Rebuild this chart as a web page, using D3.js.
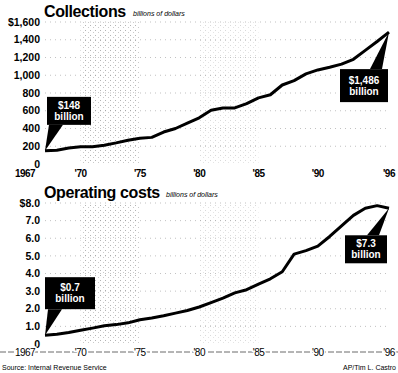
<!DOCTYPE html>
<html>
<head>
<meta charset="utf-8">
<script src="https://cdn.jsdelivr.net/npm/d3@7"></script>
<style>
  body { margin: 0; background: #fff; }
  svg { display: block; font-family: "Liberation Sans", Arial, sans-serif; }
</style>
</head>
<body>
<svg id="chart" width="398" height="373"></svg>
<script>
// data
const years = d3.range(1967, 1997);
const collections = [148, 155, 180, 195, 195, 212, 238, 268, 290, 300,
  360, 400, 460, 520, 605, 630, 632, 680, 745, 780,
  890, 940, 1015, 1060, 1090, 1125, 1180, 1280, 1380, 1486];
const opCosts = [0.5, 0.55, 0.65, 0.78, 0.9, 1.03, 1.1, 1.2, 1.38, 1.48,
  1.6, 1.75, 1.9, 2.1, 2.35, 2.6, 2.9, 3.08, 3.4, 3.7,
  4.1, 5.1, 5.3, 5.55, 6.1, 6.7, 7.3, 7.7, 7.85, 7.7];
const collTicks = [0, 200, 400, 600, 800, 1000, 1200, 1400, 1600];
const costTicks = [0, 1, 2, 3, 4, 5, 6, 7, 8];
const yearTicks = [1967, 1970, 1975, 1980, 1985, 1990, 1996];
const yearLabels = ["1967", "'70", "'75", "'80", "'85", "'90", "'96"];
const bands = [[1970, 1975, 0.4], [1980, 1985, 0.2]];

const svg = d3.select("#chart");

const x = d3.scaleLinear().domain([1967, 1996]).range([45, 389]);
const yTop = d3.scaleLinear().domain([0, 1600]).range([164, 22]);
const yBot = d3.scaleLinear().domain([0, 8]).range([344, 203]);

// stipple pattern for the shaded bands
const defs = svg.append("defs");
const pat = defs.append("pattern")
  .attr("id", "dots")
  .attr("width", 5).attr("height", 5)
  .attr("patternUnits", "userSpaceOnUse");
pat.append("rect").attr("x", 0).attr("y", 0).attr("width", 1).attr("height", 1).attr("fill", "#444");
pat.append("rect").attr("x", 3).attr("y", 2).attr("width", 1).attr("height", 1).attr("fill", "#777");

function panel(y, ticks, values, fmt, title, titleW) {
  const g = svg.append("g");

  g.selectAll("rect.band")
    .data(bands)
    .enter().append("rect")
    .attr("class", "band")
    .attr("x", d => x(d[0]))
    .attr("width", d => x(d[1]) - x(d[0]))
    .attr("y", y(ticks[ticks.length - 1]))
    .attr("height", y(0) - y(ticks[ticks.length - 1]))
    .attr("fill", "url(#dots)")
    .attr("opacity", d => d[2]);

  // faint dotted gridlines
  g.selectAll("line.grid")
    .data(ticks.slice(1))
    .enter().append("line")
    .attr("x1", x(1967)).attr("x2", x(1996))
    .attr("y1", d => y(d)).attr("y2", d => y(d))
    .attr("stroke", "#999")
    .attr("stroke-width", 0.6)
    .attr("stroke-dasharray", "1,4");

  g.selectAll("text.ytick")
    .data(ticks)
    .enter().append("text")
    .attr("x", 40)
    .attr("y", d => y(d))
    .attr("dy", "0.35em")
    .attr("text-anchor", "end")
    .attr("font-size", 10.5)
    .attr("font-weight", "bold")
    .text(fmt);

  const line = d3.line()
    .x((d, i) => x(years[i]))
    .y(d => y(d));

  g.append("path")
    .datum(values)
    .attr("d", line)
    .attr("fill", "none")
    .attr("stroke", "#000")
    .attr("stroke-width", 3)
    .attr("stroke-linejoin", "round");

  g.append("text")
    .attr("x", 44)
    .attr("y", y(ticks[ticks.length - 1]) - 5)
    .attr("font-size", 16)
    .attr("font-weight", "bold")
    .attr("letter-spacing", -0.4)
    .text(title);

  g.append("text")
    .attr("x", 44 + titleW)
    .attr("y", y(ticks[ticks.length - 1]) - 6)
    .attr("font-size", 7)
    .attr("font-style", "italic")
    .text("billions of dollars");

  return g;
}

function callout(g, tip, box, pointer, lines) {
  g.append("polygon")
    .attr("points", [[box[0] + pointer[0], pointer[2] ? box[1] : box[1] + box[3]],
                     [box[0] + pointer[1], pointer[2] ? box[1] : box[1] + box[3]],
                     tip].map(p => p.join(",")).join(" "))
    .attr("fill", "#000");
  g.append("rect")
    .attr("x", box[0]).attr("y", box[1])
    .attr("width", box[2]).attr("height", box[3])
    .attr("fill", "#000");
  g.selectAll(null)
    .data(lines)
    .enter().append("text")
    .attr("x", box[0] + box[2] / 2)
    .attr("y", (d, i) => box[1] + box[3] / 2 + (i - 0.5) * 11)
    .attr("dy", "0.35em")
    .attr("text-anchor", "middle")
    .attr("fill", "#fff")
    .attr("font-size", 10)
    .attr("font-weight", "bold")
    .text(d => d);
}

// top panel
const topPanel = panel(yTop, collTicks, collections,
  d => d === 1600 ? "$1,600" : d3.format(",")(d), "Collections", 89);

topPanel.selectAll("text.xtick")
  .data(yearTicks)
  .enter().append("text")
  .attr("x", (d, i) => x(d) + (i === 0 ? -20 : 0))
  .attr("y", yTop(0) + 13)
  .attr("text-anchor", "middle")
  .attr("font-size", 10)
  .attr("font-weight", "bold")
  .attr("letter-spacing", -0.5)
  .text((d, i) => yearLabels[i]);

{
  const t0 = [x(1967), yTop(collections[0])];
  callout(topPanel, t0, [t0[0] + 2, t0[1] - 54, 44, 28], [2, 16, false], ["$148", "billion"]);
  const t1 = [x(1996), yTop(collections[collections.length - 1])];
  callout(topPanel, t1, [t1[0] - 49, t1[1] + 37, 48, 33], [30, 42, true], ["$1,486", "billion"]);
}

// bottom panel
const botPanel = panel(yBot, costTicks, opCosts,
  d => d === 0 ? "0" : (d === 8 ? "$8.0" : d3.format(".1f")(d)), "Operating costs", 122);

const axisY = yBot(0) + 8;
botPanel.append("line")
  .attr("x1", 0).attr("x2", 398)
  .attr("y1", axisY).attr("y2", axisY)
  .attr("stroke", "#444")
  .attr("stroke-width", 0.8)
  .attr("stroke-dasharray", "6,2");

botPanel.selectAll("text.xtick")
  .data(yearTicks)
  .enter().append("text")
  .attr("x", (d, i) => x(d) + (i === 0 ? -20 : 0))
  .attr("y", axisY)
  .attr("dy", "0.35em")
  .attr("text-anchor", "middle")
  .attr("font-size", 10)
  .attr("letter-spacing", -0.5)
  .attr("stroke", "#fff")
  .attr("stroke-width", 3)
  .attr("paint-order", "stroke")
  .text((d, i) => yearLabels[i]);

{
  const t0 = [x(1967), yBot(opCosts[0])];
  callout(botPanel, t0, [t0[0], t0[1] - 58, 50, 32], [3, 17, false], ["$0.7", "billion"]);
  const t1 = [x(1996), yBot(opCosts[opCosts.length - 1])];
  callout(botPanel, t1, [t1[0] - 44, t1[1] + 27, 42, 28], [22, 34, true], ["$7.3", "billion"]);
}

svg.append("text")
  .attr("x", 2).attr("y", 370)
  .attr("font-size", 7)
  .text("Source: Internal Revenue Service");

svg.append("text")
  .attr("x", 396).attr("y", 370)
  .attr("text-anchor", "end")
  .attr("font-size", 7)
  .text("AP/Tim L. Castro");
</script>
</body>
</html>
